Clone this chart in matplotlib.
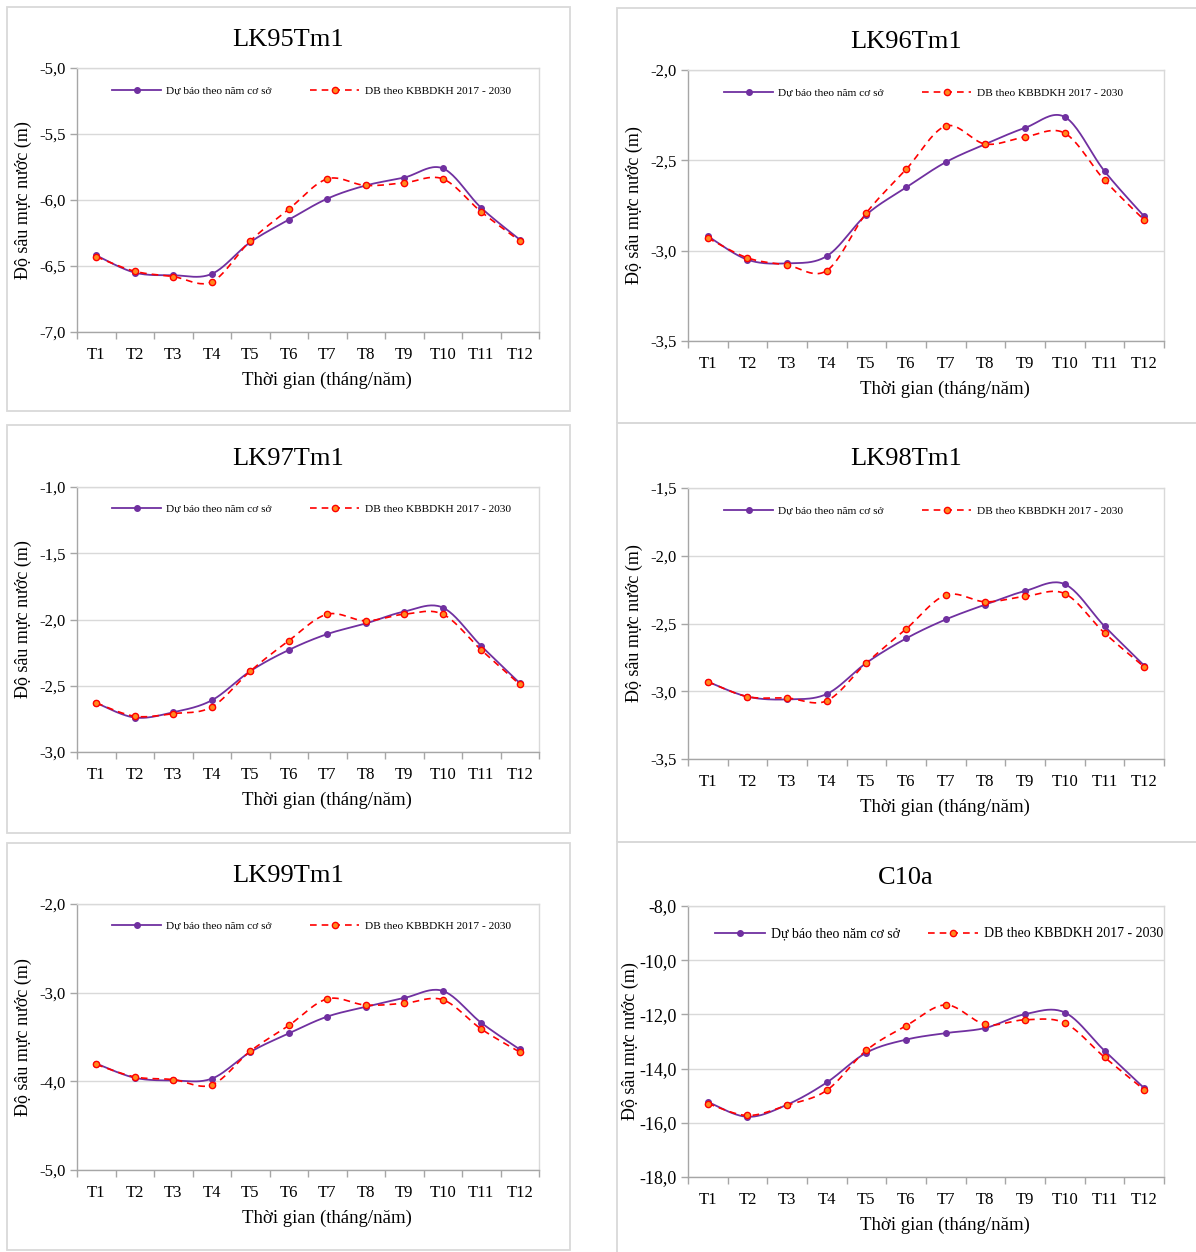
import numpy as np
import matplotlib
matplotlib.use("Agg")
import matplotlib.pyplot as plt
from matplotlib.patches import Rectangle
from matplotlib.lines import Line2D
from matplotlib.ticker import FixedLocator, FuncFormatter

plt.rcParams['font.family'] = ['Liberation Serif', 'DejaVu Serif']

months = ["T1", "T2", "T3", "T4", "T5", "T6", "T7", "T8", "T9", "T10", "T11", "T12"]
series_base_name = "Dự báo theo năm cơ sở"
series_climate_name = "DB theo KBBDKH 2017 - 2030"

# Water-table depth (m) per well: base-year forecast vs climate-scenario forecast
lk95_base = [-6.42, -6.55, -6.57, -6.56, -6.32, -6.15, -5.99, -5.89, -5.83, -5.76, -6.06, -6.30]
lk95_clim = [-6.43, -6.54, -6.58, -6.62, -6.31, -6.07, -5.84, -5.89, -5.87, -5.84, -6.09, -6.31]

lk96_base = [-2.92, -3.05, -3.07, -3.03, -2.80, -2.65, -2.51, -2.41, -2.32, -2.26, -2.56, -2.81]
lk96_clim = [-2.93, -3.04, -3.08, -3.11, -2.79, -2.55, -2.31, -2.41, -2.37, -2.35, -2.61, -2.83]

lk97_base = [-2.63, -2.74, -2.70, -2.61, -2.39, -2.23, -2.11, -2.03, -1.94, -1.91, -2.20, -2.48]
lk97_clim = [-2.63, -2.73, -2.71, -2.66, -2.39, -2.16, -1.96, -2.01, -1.96, -1.96, -2.23, -2.49]

lk98_base = [-2.93, -3.04, -3.06, -3.02, -2.79, -2.61, -2.47, -2.36, -2.26, -2.21, -2.52, -2.81]
lk98_clim = [-2.93, -3.04, -3.05, -3.07, -2.79, -2.54, -2.29, -2.34, -2.30, -2.28, -2.57, -2.82]

lk99_base = [-3.80, -3.96, -3.99, -3.97, -3.67, -3.46, -3.27, -3.16, -3.06, -2.98, -3.34, -3.64]
lk99_clim = [-3.81, -3.95, -3.98, -4.04, -3.66, -3.37, -3.07, -3.14, -3.12, -3.08, -3.41, -3.67]

c10a_base = [-15.23, -15.78, -15.33, -14.51, -13.41, -12.93, -12.69, -12.50, -11.99, -11.93, -13.34, -14.72]
c10a_clim = [-15.29, -15.73, -15.35, -14.80, -13.32, -12.42, -11.65, -12.37, -12.20, -12.32, -13.58, -14.78]

W, H = 1196, 1252
fig = plt.figure(figsize=(W / 100, H / 100), dpi=100)


def fx(px):
    return px / W


def fy(py):
    return 1 - py / H


def smooth(xs, ys, n=24):
    """Catmull-Rom style smoothing (Bezier segments through every point)."""
    xs = np.asarray(xs, float)
    ys = np.asarray(ys, float)
    px = np.concatenate([[xs[0]], xs, [xs[-1]]])
    py = np.concatenate([[ys[0]], ys, [ys[-1]]])
    out_x, out_y = [], []
    t = np.linspace(0, 1, n)
    for i in range(1, len(px) - 2):
        p0x, p1x, p2x, p3x = px[i - 1], px[i], px[i + 1], px[i + 2]
        p0y, p1y, p2y, p3y = py[i - 1], py[i], py[i + 1], py[i + 2]
        c1x, c1y = p1x + (p2x - p0x) / 6, p1y + (p2y - p0y) / 6
        c2x, c2y = p2x - (p3x - p1x) / 6, p2y - (p3y - p1y) / 6
        bx = (1 - t) ** 3 * p1x + 3 * (1 - t) ** 2 * t * c1x + 3 * (1 - t) * t ** 2 * c2x + t ** 3 * p2x
        by = (1 - t) ** 3 * p1y + 3 * (1 - t) ** 2 * t * c1y + 3 * (1 - t) * t ** 2 * c2y + t ** 3 * p2y
        out_x.extend(bx if i == 1 else bx[1:])
        out_y.extend(by if i == 1 else by[1:])
    return np.array(out_x), np.array(out_y)


PURPLE = "#7030A0"
RED = "#FF0000"
ORANGE = "#FF8A1E"
GRID = "#D9D9D9"
AXIS = "#A6A6A6"
FRAME = "#D9D9D9"

# Outer chart frames (left, top, right, bottom in pixels)
frames = [
    (7, 7, 570, 411), (7, 425, 570, 833), (7, 843, 570, 1250),
    (617, 8, 1205, 423), (617, 423, 1205, 842), (617, 842, 1205, 1260),
]
for (l, t, r, b) in frames:
    fig.patches.append(Rectangle((fx(l), fy(b)), fx(r) - fx(l), fy(t) - fy(b),
                                 transform=fig.transFigure, fill=False,
                                 edgecolor=FRAME, lw=1.3, zorder=0))

panels = [
    dict(title="LK95Tm1", base=lk95_base, clim=lk95_clim, ylim=(-7.0, -5.0), step=0.5,
         box=(77, 68, 539, 332), leg=(0.076, 0.913), lfs=8.2, hl=4.3, cs=3.4, yfs=12, yl=54),
    dict(title="LK96Tm1", base=lk96_base, clim=lk96_clim, ylim=(-3.5, -2.0), step=0.5,
         box=(688, 70, 1164, 341), leg=(0.076, 0.915), lfs=8.2, hl=4.3, cs=3.4, yfs=12, yl=54),
    dict(title="LK97Tm1", base=lk97_base, clim=lk97_clim, ylim=(-3.0, -1.0), step=0.5,
         box=(77, 487, 539, 752), leg=(0.076, 0.917), lfs=8.2, hl=4.3, cs=3.4, yfs=12, yl=54),
    dict(title="LK98Tm1", base=lk98_base, clim=lk98_clim, ylim=(-3.5, -1.5), step=0.5,
         box=(688, 488, 1164, 759), leg=(0.076, 0.915), lfs=8.2, hl=4.3, cs=3.4, yfs=12, yl=54),
    dict(title="LK99Tm1", base=lk99_base, clim=lk99_clim, ylim=(-5.0, -2.0), step=1.0,
         box=(77, 904, 539, 1170), leg=(0.076, 0.917), lfs=8.2, hl=4.3, cs=3.4, yfs=12, yl=54),
    dict(title="C10a", base=c10a_base, clim=c10a_clim, ylim=(-18.0, -8.0), step=2.0,
         box=(688, 906, 1164, 1177), leg=(0.057, 0.897), lfs=10.0, hl=3.6, cs=2.0, yfs=13, yl=58),
]

x = np.arange(1, len(months) + 1)

for p in panels:
    l, t, r, b = p["box"]
    ax = fig.add_axes([fx(l), fy(b), fx(r) - fx(l), fy(t) - fy(b)])
    ax.set_xlim(0.5, len(months) + 0.5)
    ax.set_ylim(*p["ylim"])

    yt = np.arange(p["ylim"][0], p["ylim"][1] + p["step"] / 2, p["step"])
    ax.yaxis.set_major_locator(FixedLocator(yt))
    ax.yaxis.set_major_formatter(FuncFormatter(lambda v, pos: f"{v:.1f}".replace(".", ",")))
    ax.grid(axis="y", color=GRID, lw=1.0, zorder=0)
    ax.set_axisbelow(True)

    ax.set_xticks(x)
    ax.set_xticklabels(months)
    ax.set_xticks(np.arange(0.5, len(months) + 1), minor=True)
    ax.tick_params(axis="x", which="major", length=0, pad=11, labelsize=12)
    ax.tick_params(axis="x", which="minor", length=5, width=1, color=AXIS, direction="out")
    ax.tick_params(axis="y", which="major", length=5, width=1, color=AXIS, pad=3,
                   labelsize=p["yfs"])

    for s in ("left", "bottom"):
        ax.spines[s].set_color(AXIS)
        ax.spines[s].set_linewidth(1.0)
    for s in ("top", "right"):
        ax.spines[s].set_color(GRID)
        ax.spines[s].set_linewidth(1.0)

    sx, sy = smooth(x, p["base"])
    ax.plot(sx, sy, color=PURPLE, lw=1.3, zorder=3)
    ax.plot(x, p["base"], ls="none", marker="o", ms=4.0, color=PURPLE, zorder=4)

    cx, cy = smooth(x, p["clim"])
    ax.plot(cx, cy, color=RED, lw=1.2, ls=(0, (4, 3)), zorder=3)
    ax.plot(x, p["clim"], ls="none", marker="o", ms=4.5, mfc=ORANGE, mec=RED,
            mew=1.0, zorder=4)

    handles = [
        Line2D([], [], color=PURPLE, lw=1.3, marker="o", ms=4.0, label=series_base_name),
        Line2D([], [], color=RED, lw=1.2, ls=(0, (4, 3)), marker="o", ms=4.5,
               mfc=ORANGE, mec=RED, label=series_climate_name),
    ]
    ax.legend(handles=handles, loc="center left", bbox_to_anchor=p["leg"],
              ncol=2, frameon=False, fontsize=p["lfs"], handlelength=p["hl"],
              handletextpad=0.45, columnspacing=p["cs"], borderpad=0,
              borderaxespad=0, numpoints=1)

    cxm = (l + r) / 2
    fig.text(fx(cxm - 20), fy(t - 31), p["title"], ha="center", va="center_baseline",
             fontsize=19)
    fig.text(fx(cxm + 19), fy(b + 48), "Thời gian (tháng/năm)", ha="center",
             va="center", fontsize=13.5)
    fig.text(fx(l - p["yl"]), fy((t + b) / 2), "Độ sâu mực nước (m)", ha="center",
             va="center", rotation=90, fontsize=13)

fig.savefig("out.png", dpi=100)
